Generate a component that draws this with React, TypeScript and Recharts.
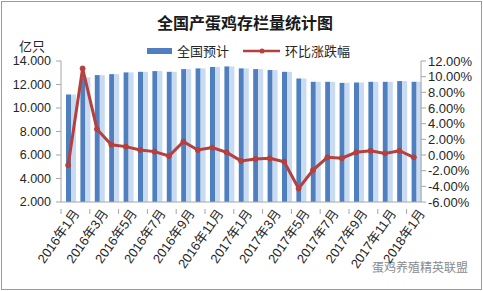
import React from 'react';
import { ComposedChart, Bar, Line, XAxis, YAxis } from 'recharts';

const months = [
  '2016年1月', '2016年2月', '2016年3月', '2016年4月', '2016年5月', '2016年6月', '2016年7月',
  '2016年8月', '2016年9月', '2016年10月', '2016年11月', '2016年12月', '2017年1月', '2017年2月',
  '2017年3月', '2017年4月', '2017年5月', '2017年6月', '2017年7月', '2017年8月', '2017年9月',
  '2017年10月', '2017年11月', '2017年12月', '2018年1月',
];
const stock = [
  11150, 12600, 12800, 12880, 13030, 13080, 13140, 13080, 13310, 13370, 13490, 13540, 13370,
  13310, 13230, 13080, 12510, 12230, 12230, 12140, 12170, 12230, 12230, 12290, 12230,
];
const change = [
  -1.3, 11.05, 3.3, 1.3, 1.07, 0.64, 0.43, -0.13, 1.71, 0.64, 0.94, 0.34, -0.75,
  -0.51, -0.43, -0.86, -4.28, -1.93, -0.3, -0.4, 0.34, 0.55, 0.21, 0.55, -0.3,
];
const leftTicks = [2000, 4000, 6000, 8000, 10000, 12000, 14000];
const rightTicks = [-6, -4, -2, 0, 2, 4, 6, 8, 10, 12];

const data = months.map((m, i) => ({ month: m, total: stock[i], pct: change[i] }));

const W = 483;
const H = 291;
const PLOT_LEFT = 61;
const PLOT_RIGHT = 421;
const PLOT_TOP = 61;
const PLOT_BOTTOM = 202;
const half = (PLOT_RIGHT - PLOT_LEFT) / months.length / 2;

const axisColor = '#a6a6a6';
const textColor = '#262626';
const lineColor = '#b5403d';
const font = '"Liberation Sans", Arial, sans-serif';
const cjk = '"Noto Sans CJK SC", sans-serif';

const fmtLeft = (v: number) => (v / 1000).toFixed(3);
const fmtRight = (v: number) => v.toFixed(2) + '%';

const BarShape = (props: any) => {
  const { x, y, width, height } = props;
  if (!height || height <= 0) return null;
  return (
    <g>
      <rect x={x} y={y} width={width} height={height} fill="#4f7fbf" />
      <rect x={x + width} y={y} width={width} height={height} fill="#c9dbf1" />
    </g>
  );
};

const MonthTick = (props: any) => {
  const { x, y, payload } = props;
  return (
    <g transform={`translate(${x},${y})`}>
      <line x1={-half} y1={-1} x2={-half} y2={4} stroke={axisColor} />
      <text
        x={4}
        y={7}
        transform="rotate(-55)"
        textAnchor="end"
        dominantBaseline="central"
        fontSize={13}
        fill={textColor}
        style={{ fontFamily: font + ', ' + cjk }}
      >
        {payload.value}
      </text>
    </g>
  );
};

export default function App() {
  return (
    <div style={{ position: 'absolute', left: 0, top: 0, width: W, height: H, background: '#fff' }}>
      <div
        style={{
          position: 'absolute', left: 1, top: 1, width: W - 4, height: H - 4,
          border: '1px solid #9a9a9a',
        }}
      />
      <div
        style={{
          position: 'absolute', left: 0, top: 10, width: 490, textAlign: 'center',
          fontFamily: cjk, fontWeight: 700, fontSize: 16, color: '#1a1a1a',
        }}
      >
        全国产蛋鸡存栏量统计图
      </div>
      <div style={{ position: 'absolute', left: 19, top: 36, fontFamily: cjk, fontSize: 13, color: textColor }}>
        亿只
      </div>
      <div
        style={{
          position: 'absolute', left: 147, top: 41, display: 'flex', alignItems: 'center',
          fontFamily: cjk, fontSize: 13, color: textColor,
        }}
      >
        <span style={{ display: 'inline-block', width: 25, height: 6, background: '#4f7fbf', marginRight: 5 }} />
        <span>全国预计</span>
        <svg width={40} height={10} style={{ marginLeft: 13, marginRight: 3 }}>
          <line x1={1} y1={5} x2={38} y2={5} stroke={lineColor} strokeWidth={2.5} />
          <circle cx={20} cy={5} r={2.5} fill={lineColor} />
        </svg>
        <span>环比涨跌幅</span>
      </div>
      <div
        style={{
          position: 'absolute', left: 372, top: 258, fontFamily: cjk, fontSize: 12, color: '#8a8a8a',
        }}
      >
        蛋鸡养殖精英联盟
      </div>
      <div style={{ position: 'absolute', left: 0, top: 0 }}>
        <ComposedChart
          width={W}
          height={H}
          data={data}
          margin={{ top: PLOT_TOP, right: 0, left: 0, bottom: 0 }}
          barCategoryGap={0}
        >
          <XAxis
            dataKey="month"
            interval={1}
            height={H - PLOT_BOTTOM}
            tick={<MonthTick />}
            tickLine={false}
            axisLine={{ stroke: axisColor }}
          />
          <YAxis
            yAxisId="left"
            width={PLOT_LEFT}
            domain={[2000, 14000]}
            ticks={leftTicks}
            interval={0}
            tickFormatter={fmtLeft}
            tick={{ fill: textColor, fontSize: 12.5, fontFamily: font }}
            tickSize={5}
            tickMargin={5}
            tickLine={{ stroke: axisColor }}
            axisLine={{ stroke: axisColor }}
          />
          <YAxis
            yAxisId="right"
            orientation="right"
            width={W - PLOT_RIGHT}
            domain={[-6, 12]}
            ticks={rightTicks}
            interval={0}
            tickFormatter={fmtRight}
            tick={{ fill: textColor, fontSize: 13, fontFamily: font, textAnchor: 'start' }}
            tickSize={5}
            tickMargin={2}
            tickLine={{ stroke: axisColor }}
            axisLine={{ stroke: axisColor }}
          />
          <Bar
            yAxisId="left"
            dataKey="total"
            barSize={5}
            shape={<BarShape />}
            isAnimationActive={false}
          />
          <Line
            yAxisId="right"
            dataKey="pct"
            type="linear"
            stroke={lineColor}
            strokeWidth={3}
            dot={{ r: 2.5, fill: lineColor, stroke: lineColor, strokeWidth: 1 }}
            isAnimationActive={false}
          />
        </ComposedChart>
      </div>
    </div>
  );
}
